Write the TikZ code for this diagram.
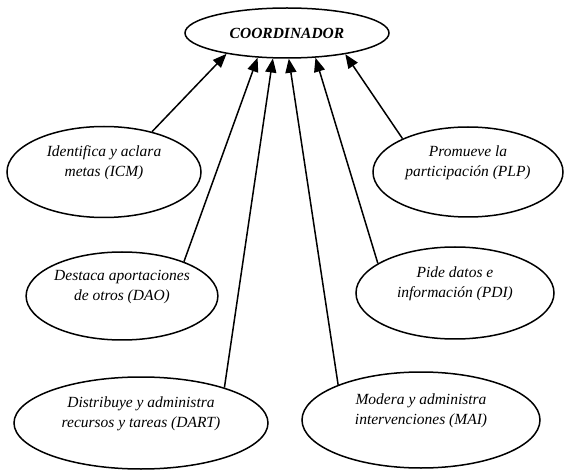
\documentclass[tikz,border=0pt]{standalone}
\usepackage{fontspec}
\setmainfont{Liberation Serif}
\usetikzlibrary{shapes.geometric, arrows.meta}

\begin{document}
\begin{tikzpicture}[x=1pt, y=-1pt,
    rol/.style={draw, ellipse, line width=1.5pt, inner sep=0pt, align=center,
        text depth=22pt, font=\fontsize{15.5}{20}\selectfont\itshape},
    flecha/.style={-{Triangle[length=14pt,width=11pt]}, line width=1.5pt}]
    \useasboundingbox (0,0) rectangle (565,470);
    % Nodo central
    \node[draw, ellipse, line width=1.5pt, inner sep=0pt, minimum width=204pt, minimum height=50pt,
        font=\fontsize{15.5}{18}\selectfont\bfseries\itshape] (coord) at (287,33) {COORDINADOR};
    % Funciones a la izquierda
    \node[rol, minimum width=194pt, minimum height=91pt] (icm) at (104,172) {Identifica y aclara\\metas (ICM)};
    \node[rol, minimum width=190pt, minimum height=88pt] (dao) at (122,296) {Destaca aportaciones\\de otros (DAO)};
    \node[rol, minimum width=254pt, minimum height=92pt] (dart) at (141,423) {Distribuye y administra\\recursos y tareas (DART)};
    % Funciones a la derecha
    \node[rol, minimum width=190pt, minimum height=90pt] (plp) at (468,172) {Promueve la\\participación (PLP)};
    \node[rol, minimum width=198pt, minimum height=92pt] (pdi) at (455,293) {Pide datos e\\información (PDI)};
    \node[rol, minimum width=238pt, minimum height=96pt] (mai) at (421,420) {Modera y administra\\intervenciones (MAI)};
    % Flechas hacia el coordinador
    \draw[flecha] (icm.40) -- (coord.199);
    \draw[flecha] (dao.29) -- (coord.220);
    \draw[flecha] (dart.23) -- (coord.241);
    \draw[flecha] (mai.157) -- (coord.274);
    \draw[flecha] (pdi.159) -- (coord.319);
    \draw[flecha] (plp.153) -- (coord.340);
\end{tikzpicture}
\end{document}
